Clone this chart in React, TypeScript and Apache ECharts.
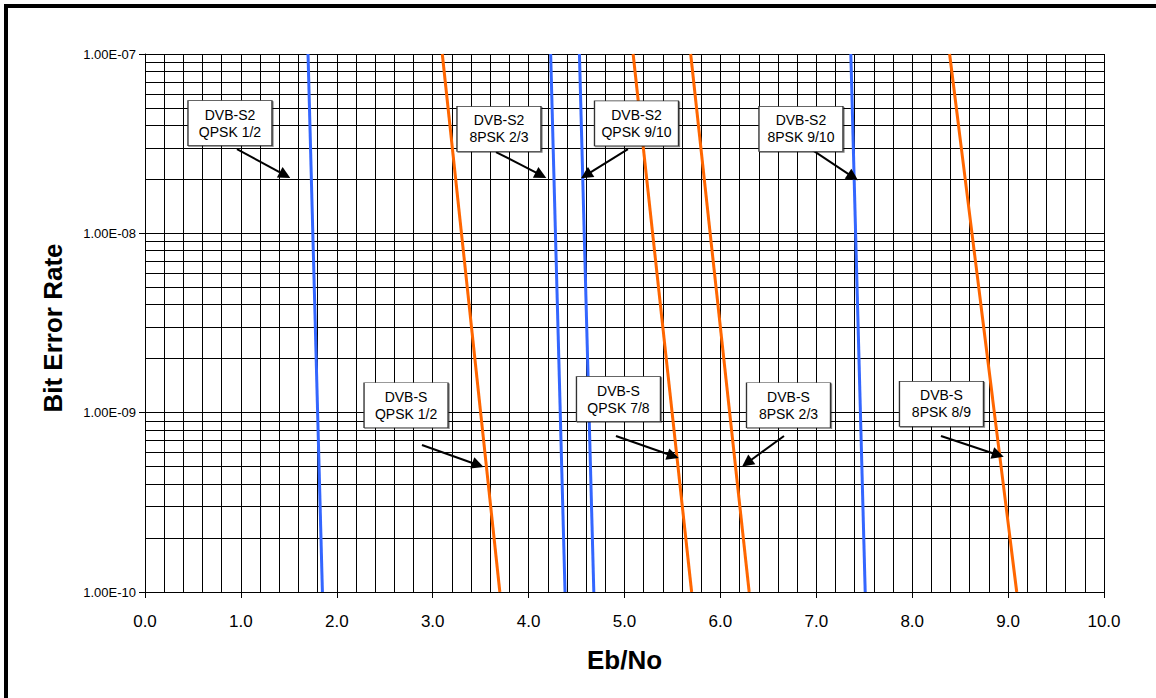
import React, { useEffect, useRef } from "react";
import * as echarts from "echarts";

// ---- Data ----
const seriesNames = [
  "DVB-S2 QPSK 1/2",
  "DVB-S QPSK 1/2",
  "DVB-S2 8PSK 2/3",
  "DVB-S2 QPSK 9/10",
  "DVB-S QPSK 7/8",
  "DVB-S 8PSK 2/3",
  "DVB-S2 8PSK 9/10",
  "DVB-S 8PSK 8/9",
];
const seriesStandard = ["DVB-S2", "DVB-S", "DVB-S2", "DVB-S2", "DVB-S", "DVB-S", "DVB-S2", "DVB-S"];
// Eb/No (dB) at BER = 1e-7 and at BER = 1e-10
const ebnoAtTopBer = [1.7, 3.1, 4.23, 4.53, 5.09, 5.69, 7.36, 8.39];
const ebnoAtBottomBer = [1.85, 3.7, 4.38, 4.68, 5.7, 6.3, 7.51, 9.09];
const topBer = 1e-7;
const bottomBer = 1e-10;

// Axis ticks
const xMin = 0;
const xMax = 10;
const xStep = 1;
const logDecades = [1e-10, 1e-9, 1e-8];
const minorMultipliers = [2, 3, 4, 5, 6, 7, 8, 9];

// Annotations (data coordinates: Eb/No, BER)
const annoText = [
  "DVB-S2\nQPSK 1/2",
  "DVB-S2\n8PSK 2/3",
  "DVB-S2\nQPSK 9/10",
  "DVB-S2\n8PSK 9/10",
  "DVB-S\nQPSK 1/2",
  "DVB-S\nQPSK 7/8",
  "DVB-S\n8PSK 2/3",
  "DVB-S\n8PSK 8/9",
];
const annoBoxX = [0.886, 3.691, 5.125, 6.84, 2.722, 4.937, 6.71, 8.305];
const annoBoxY = [4.12e-8, 3.82e-8, 4.1e-8, 3.82e-8, 1.1e-9, 1.19e-9, 1.1e-9, 1.12e-9];
const arrowFromX = [0.959, 3.66, 5.036, 6.945, 2.888, 4.911, 6.663, 8.3];
const arrowFromY = [2.95e-8, 2.84e-8, 2.95e-8, 2.95e-8, 6.6e-10, 7.41e-10, 7.41e-10, 7.41e-10];
const arrowToX = [1.46, 4.129, 4.599, 7.383, 3.472, 5.506, 6.277, 8.895];
const arrowToY = [2.11e-8, 2.11e-8, 2.11e-8, 2.06e-8, 5.11e-10, 5.73e-10, 5.24e-10, 5.81e-10];

const BLUE = "#3366FF";
const ORANGE = "#FF6600";
const FONT = "'Liberation Sans', Arial, Helvetica, sans-serif";

function fmtBer(v: number): string {
  const e = Math.round(Math.log10(v));
  const m = v / Math.pow(10, e);
  const sign = e < 0 ? "-" : "+";
  const abs = Math.abs(e);
  return m.toFixed(2) + "E" + sign + (abs < 10 ? "0" + abs : String(abs));
}

export default function App() {
  const ref = useRef<HTMLDivElement>(null);

  useEffect(() => {
    document.body.style.margin = "0";
    if (!ref.current) return;
    const chart = echarts.init(ref.current, null, { renderer: "svg" });

    const minorValues: number[] = [];
    logDecades.forEach((d) => minorMultipliers.forEach((m) => minorValues.push(m * d)));

    const series: any[] = seriesNames.map((name, i) => ({
      name,
      type: "line",
      data: [
        [ebnoAtTopBer[i], topBer],
        [ebnoAtBottomBer[i], bottomBer],
      ],
      symbol: "none",
      silent: true,
      z: 3,
      lineStyle: { width: 3, color: seriesStandard[i] === "DVB-S2" ? BLUE : ORANGE },
      itemStyle: { color: seriesStandard[i] === "DVB-S2" ? BLUE : ORANGE },
      emphasis: { disabled: true },
    }));

    // minor horizontal grid lines (log 2..9)
    series[0].markLine = {
      silent: true,
      symbol: "none",
      z: 1,
      label: { show: false },
      lineStyle: { color: "#000", width: 1, type: "solid" },
      emphasis: { disabled: true },
      data: minorValues.map((v) => [{ coord: [xMin, v] }, { coord: [xMax, v] }]),
    };

    // arrows
    series[1].markLine = {
      silent: true,
      symbol: ["none", "triangle"],
      symbolSize: 12,
      z: 6,
      label: { show: false },
      lineStyle: { color: "#000", width: 2, type: "solid" },
      itemStyle: { color: "#000" },
      emphasis: { disabled: true },
      data: annoText.map((_, i) => [
        { coord: [arrowFromX[i], arrowFromY[i]] },
        { coord: [arrowToX[i], arrowToY[i]] },
      ]),
    };

    // label boxes
    series[1].markPoint = {
      silent: true,
      symbol: "rect",
      symbolSize: [84, 45],
      z: 7,
      itemStyle: {
        color: "#fff",
        borderColor: "#333",
        borderWidth: 1,
        shadowColor: "rgba(0,0,0,0.45)",
        shadowOffsetX: 1,
        shadowOffsetY: 1,
        shadowBlur: 0,
      },
      label: {
        show: true,
        position: "inside",
        color: "#000",
        fontFamily: FONT,
        fontSize: 14,
        lineHeight: 17,
        align: "center",
        verticalAlign: "middle",
      },
      emphasis: { disabled: true },
      data: annoText.map((t, i) => ({
        coord: [annoBoxX[i], annoBoxY[i]],
        value: t,
        label: { formatter: t },
      })),
    };

    const option: any = {
      animation: false,
      backgroundColor: "#fff",
      textStyle: { fontFamily: FONT },
      grid: { left: 145, top: 54, width: 959, height: 538, containLabel: false },
      xAxis: {
        type: "value",
        min: xMin,
        max: xMax,
        interval: xStep,
        axisLine: { show: true, onZero: false, lineStyle: { color: "#000", width: 1 } },
        axisTick: { show: true, length: 6, lineStyle: { color: "#000" } },
        axisLabel: {
          color: "#000",
          fontSize: 17,
          margin: 21,
          fontFamily: FONT,
          formatter: (v: number) => v.toFixed(1),
        },
        splitLine: { show: true, lineStyle: { color: "#000", width: 1 } },
        minorTick: { show: false, splitNumber: 5 },
        minorSplitLine: { show: true, lineStyle: { color: "#000", width: 1 } },
      },
      yAxis: {
        type: "log",
        logBase: 10,
        min: bottomBer,
        max: topBer,
        axisLine: { show: true, lineStyle: { color: "#000", width: 1 } },
        axisTick: { show: true, length: 6, lineStyle: { color: "#000" } },
        axisLabel: {
          color: "#000",
          fontSize: 13,
          margin: 9,
          fontFamily: FONT,
          formatter: (v: number) => fmtBer(v),
        },
        splitLine: { show: true, lineStyle: { color: "#000", width: 1 } },
      },
      graphic: [
        {
          type: "rect",
          silent: true,
          shape: { x: 6, y: 6, width: 1300, height: 900 },
          style: { fill: "none", stroke: "#000", lineWidth: 4 },
          z: 100,
        },
        {
          type: "text",
          silent: true,
          x: 53,
          y: 328,
          rotation: Math.PI / 2,
          style: {
            text: "Bit Error Rate",
            font: "bold 26px " + FONT,
            fill: "#000",
            align: "center",
            verticalAlign: "middle",
          },
        },
        {
          type: "text",
          silent: true,
          x: 624.5,
          y: 660,
          style: {
            text: "Eb/No",
            font: "bold 26px " + FONT,
            fill: "#000",
            align: "center",
            verticalAlign: "middle",
          },
        },
      ],
      series,
    };

    chart.setOption(option);
    return () => chart.dispose();
  }, []);

  return <div ref={ref} style={{ width: 1156, height: 698, background: "#fff" }} />;
}
